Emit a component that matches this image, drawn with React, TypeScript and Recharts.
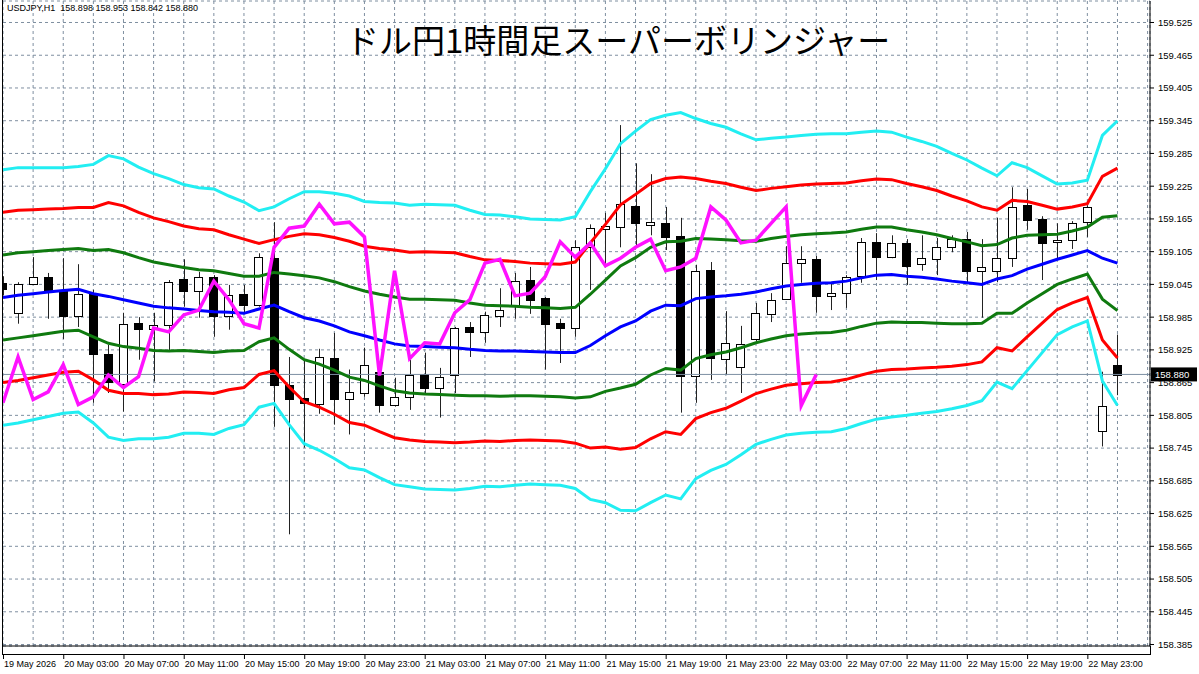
import React from 'react'
import {
  ComposedChart,
  Bar,
  Line,
  XAxis,
  YAxis,
  CartesianGrid,
  ReferenceLine
} from 'recharts'

// USDJPY H1, 75 candles (19 May 23:00 .. )
const open = [
  159.048, 158.993, 159.046, 159.059, 159.035, 158.987, 159.028, 158.918, 158.863, 158.974,
  158.963, 158.971, 159.055, 159.033, 159.059, 158.987, 159.028, 159.007, 159.093, 158.861,
  158.837, 158.826, 158.910, 158.835, 158.846, 158.885, 158.825, 158.839, 158.881, 158.856,
  158.878, 158.967, 158.958, 158.987, 159.006, 159.053, 159.020, 158.974, 158.965, 159.113,
  159.146, 159.150, 159.188, 159.154, 159.157, 159.134, 158.878, 159.071, 158.909, 158.894,
  158.945, 158.991, 159.018, 159.084, 159.091, 159.024, 159.029, 159.060, 159.123, 159.095,
  159.121, 159.082, 159.091, 159.113, 159.128, 159.070, 159.070, 159.093, 159.190, 159.165,
  159.123, 159.126, 159.159, 158.777, 158.898
]
const high = [
  159.060, 159.049, 159.095, 159.066, 159.093, 159.082, 159.035, 158.934, 158.993, 158.985,
  158.993, 159.053, 159.091, 159.068, 159.062, 159.044, 159.044, 159.102, 159.159, 158.912,
  158.907, 158.927, 158.956, 158.889, 158.929, 158.892, 158.874, 158.907, 158.920, 158.892,
  158.967, 158.976, 158.995, 159.038, 159.066, 159.077, 159.022, 158.982, 159.126, 159.155,
  159.176, 159.337, 159.267, 159.247, 159.187, 159.167, 159.081, 159.086, 158.996, 158.969,
  159.011, 159.029, 159.115, 159.115, 159.097, 159.048, 159.062, 159.130, 159.139, 159.135,
  159.128, 159.135, 159.130, 159.135, 159.141, 159.128, 159.167, 159.223, 159.220, 159.170,
  159.157, 159.161, 159.190, 158.885, 158.953
]
const low = [
  159.025, 158.973, 159.044, 158.982, 158.945, 158.967, 158.828, 158.846, 158.812, 158.907,
  158.867, 158.921, 159.004, 158.984, 158.949, 158.962, 158.993, 159.004, 158.784, 158.587,
  158.746, 158.808, 158.788, 158.770, 158.839, 158.810, 158.821, 158.815, 158.846, 158.801,
  158.846, 158.912, 158.938, 158.967, 158.982, 158.991, 158.889, 158.901, 158.949, 159.035,
  159.079, 159.113, 159.117, 159.135, 159.108, 158.810, 158.828, 158.870, 158.879, 158.846,
  158.940, 158.976, 159.017, 159.048, 158.993, 158.998, 159.002, 159.048, 159.053, 159.093,
  159.044, 159.070, 159.062, 159.104, 159.049, 158.984, 159.049, 159.077, 159.145, 159.053,
  159.093, 159.110, 159.132, 158.748, 158.842
]
const close = [
  159.037, 159.046, 159.059, 159.033, 158.987, 159.028, 158.918, 158.867, 158.973, 158.963,
  158.971, 159.049, 159.033, 159.059, 158.987, 159.026, 159.007, 159.095, 158.861, 158.835,
  158.828, 158.912, 158.834, 158.848, 158.898, 158.825, 158.839, 158.879, 158.856, 158.876,
  158.965, 158.958, 158.989, 158.998, 159.051, 159.017, 158.973, 158.965, 159.113, 159.148,
  159.152, 159.192, 159.156, 159.159, 159.132, 158.878, 159.070, 158.909, 158.938, 158.936,
  158.993, 159.017, 159.084, 159.091, 159.024, 159.029, 159.059, 159.123, 159.095, 159.121,
  159.079, 159.093, 159.113, 159.128, 159.070, 159.077, 159.093, 159.187, 159.163, 159.121,
  159.126, 159.157, 159.187, 158.823, 158.880
]

// bollinger middle line and one sigma
const mid = [
  159.021, 159.025, 159.028, 159.031, 159.034, 159.036, 159.028, 159.023, 159.017, 159.011,
  159.005, 159.002, 159.000, 158.997, 158.995, 158.994, 158.992, 159.000, 159.007, 158.995,
  158.984, 158.978, 158.969, 158.958, 158.951, 158.943, 158.936, 158.932, 158.931, 158.930,
  158.929, 158.926, 158.924, 158.923, 158.923, 158.922, 158.921, 158.920, 158.920, 158.933,
  158.951, 158.967, 158.978, 158.996, 159.007, 159.006, 159.019, 159.022, 159.024, 159.027,
  159.031, 159.037, 159.042, 159.045, 159.047, 159.048, 159.051, 159.057, 159.062, 159.063,
  159.060, 159.058, 159.055, 159.051, 159.048, 159.045, 159.055, 159.061, 159.073, 159.082,
  159.091, 159.099, 159.107, 159.093, 159.084
]
const sigma = [
  0.078, 0.078, 0.077, 0.076, 0.075, 0.075, 0.079, 0.086, 0.086, 0.083,
  0.081, 0.079, 0.076, 0.075, 0.075, 0.071, 0.068, 0.060, 0.060, 0.069,
  0.077, 0.079, 0.081, 0.083, 0.082, 0.084, 0.086, 0.086, 0.087, 0.087,
  0.087, 0.085, 0.083, 0.083, 0.082, 0.081, 0.081, 0.081, 0.083, 0.094,
  0.102, 0.112, 0.116, 0.117, 0.116, 0.118, 0.110, 0.106, 0.103, 0.098,
  0.093, 0.092, 0.091, 0.091, 0.091, 0.091, 0.090, 0.089, 0.088, 0.087,
  0.085, 0.083, 0.081, 0.078, 0.075, 0.071, 0.063, 0.069, 0.062, 0.054,
  0.046, 0.044, 0.043, 0.075, 0.087
]

const LAG = 20 // chikou span: close shifted back 20 bars

const timeLabels = [
  '19 May 2026', '20 May 03:00', '20 May 07:00', '20 May 11:00', '20 May 15:00',
  '20 May 19:00', '20 May 23:00', '21 May 03:00', '21 May 07:00', '21 May 11:00',
  '21 May 15:00', '21 May 19:00', '21 May 23:00', '22 May 03:00', '22 May 07:00',
  '22 May 11:00', '22 May 15:00', '22 May 19:00', '22 May 23:00'
]
const xTicks = [
  0, 2, 4, 6, 8, 10, 12, 14, 16, 18, 20, 22, 24, 26, 28, 30, 32, 34, 36, 38,
  40, 42, 44, 46, 48, 50, 52, 54, 56, 58, 60, 62, 64, 66, 68, 70, 72, 74, 76
]
const priceTicks = [
  158.385, 158.445, 158.505, 158.565, 158.625, 158.685, 158.745, 158.805, 158.865, 158.925,
  158.985, 159.045, 159.105, 159.165, 159.225, 159.285, 159.345, 159.405, 159.465, 159.525
]
const lastPrice = 158.88

const data = close.map((c, i) => ({
  i,
  o: open[i],
  h: high[i],
  l: low[i],
  c,
  range: [low[i], high[i]],
  mid: mid[i],
  u1: mid[i] + sigma[i],
  u2: mid[i] + 2 * sigma[i],
  u3: mid[i] + 3 * sigma[i],
  d1: mid[i] - sigma[i],
  d2: mid[i] - 2 * sigma[i],
  d3: mid[i] - 3 * sigma[i],
  lag: i + LAG < close.length ? close[i + LAG] : null
}))

const FONT = "'Liberation Sans', Arial, sans-serif"

const Candle = (props: any) => {
  const { x, y, width, height, payload } = props
  const top = Math.min(y, y + height)
  const ht = Math.abs(height)
  const { o, h, l, c } = payload
  const k = ht / (h - l)
  const cx = Math.round(x + width / 2) + 0.5
  const yO = top + (h - o) * k
  const yC = top + (h - c) * k
  const bTop = Math.round(Math.min(yO, yC)) + 0.5
  const bH = Math.max(1, Math.round(Math.abs(yO - yC)))
  const bx = Math.round(x) + 0.5
  return (
    <g>
      <line x1={cx} x2={cx} y1={top} y2={top + ht} stroke="#222" strokeWidth={1} />
      <rect x={bx} y={bTop} width={width - 1} height={bH} fill={c >= o ? '#fff' : '#000'} stroke="#000" strokeWidth={1} />
    </g>
  )
}

const TimeTick = (props: any) => {
  const { x, y, payload } = props
  const v = payload.value
  if (v % 4 !== 0) return null
  const label = timeLabels[v / 4]
  if (!label) return null
  return (
    <g>
      <line x1={x + 0.5} x2={x + 0.5} y1={y + 9} y2={y + 13} stroke="#000" />
      <text x={x + 1} y={y + 21} fontSize={9} fontFamily={FONT} fill="#000" textAnchor="start">
        {label}
      </text>
    </g>
  )
}

const PriceBox = (props: any) => {
  const { viewBox } = props
  const right = viewBox.x + viewBox.width
  const y = viewBox.y
  return (
    <g>
      <rect x={right + 1} y={y - 7} width={46} height={14} fill="#000" />
      <text x={right + 5} y={y + 3.5} fontSize={9.5} fontFamily={FONT} fill="#fff">
        {lastPrice.toFixed(3)}
      </text>
    </g>
  )
}

const bandProps = { type: 'linear' as const, dot: false, isAnimationActive: false, strokeWidth: 3, activeDot: false }

export default function App() {
  return (
    <div style={{ position: 'absolute', left: 0, top: 0, width: 1199, height: 674, background: '#fff', overflow: 'hidden' }}>
      <ComposedChart
        width={1199}
        height={674}
        data={data}
        margin={{ top: 1, right: 0, bottom: 0, left: 3 }}
      >
        <CartesianGrid stroke="#7f8fa0" strokeDasharray="3 3" strokeWidth={1} />
        <XAxis
          type="number"
          dataKey="i"
          domain={[0, 76.16]}
          ticks={xTicks}
          interval={0}
          height={28}
          tickSize={0}
          tickMargin={0}
          tickLine={false}
          axisLine={{ stroke: '#000' }}
          tick={<TimeTick />}
          allowDataOverflow
        />
        <YAxis
          orientation="right"
          domain={[158.3823, 159.5644]}
          ticks={priceTicks}
          interval={0}
          width={49}
          allowDataOverflow
          axisLine={{ stroke: '#000' }}
          tickLine={{ stroke: '#000' }}
          tickSize={4}
          tickMargin={4}
          tickFormatter={(v: number) => v.toFixed(3)}
          tick={{ fontSize: 9.5, fontFamily: FONT, fill: '#000' }}
        />
        <ReferenceLine y={lastPrice} stroke="#7d8fa3" strokeWidth={1} label={<PriceBox />} />
        <Bar dataKey="range" barSize={9} shape={<Candle />} isAnimationActive={false} />
        <Line dataKey="u3" stroke="#22eef2" {...bandProps} />
        <Line dataKey="d3" stroke="#22eef2" {...bandProps} />
        <Line dataKey="u2" stroke="#ff0000" {...bandProps} />
        <Line dataKey="d2" stroke="#ff0000" {...bandProps} />
        <Line dataKey="u1" stroke="#0f7a0f" {...bandProps} />
        <Line dataKey="d1" stroke="#0f7a0f" {...bandProps} />
        <Line dataKey="mid" stroke="#0000ff" {...bandProps} />
        <Line dataKey="lag" stroke="#ff11ff" {...bandProps} strokeWidth={3.5} connectNulls={false} />
      </ComposedChart>
      {/* frame pieces */}
      <div style={{ position: 'absolute', left: 2, top: 0, width: 1, height: 655, background: '#000' }} />
      <div style={{ position: 'absolute', left: 2, top: 654, width: 1149, height: 1, background: '#000' }} />
      <div style={{ position: 'absolute', left: 1150, top: 646, width: 1, height: 9, background: '#000' }} />
      <div style={{ position: 'absolute', left: 7, top: 3, fontFamily: FONT, fontSize: 9, color: '#000', whiteSpace: 'pre', lineHeight: '11px' }}>
        {'USDJPY,H1  158.898 158.953 158.842 158.880'}
      </div>
      <div style={{ position: 'absolute', left: 346, top: 19, fontFamily: "'Noto Sans CJK JP', sans-serif", fontSize: 33, lineHeight: '40px', color: '#000', whiteSpace: 'nowrap' }}>
        ドル円1時間足スーパーボリンジャー
      </div>
    </div>
  )
}
